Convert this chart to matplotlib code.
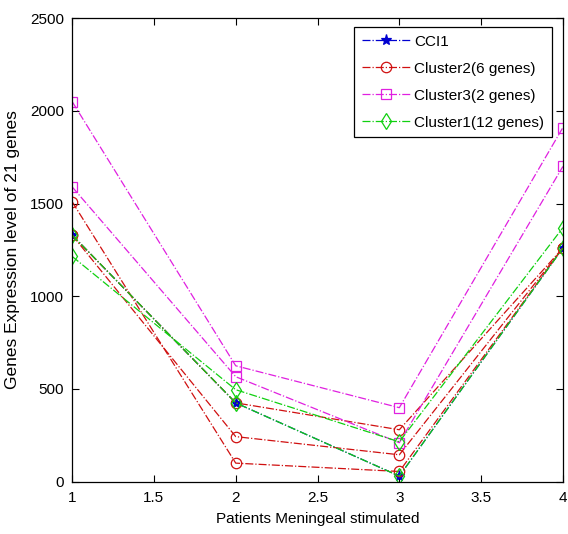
import matplotlib
matplotlib.use("Agg")
import matplotlib.pyplot as plt

plt.rcParams['font.family'] = ['Liberation Sans', 'DejaVu Sans']

patients = [1, 2, 3, 4]

# expression profiles per group (one list per plotted line)
cci1 = [[1330, 425, 30, 1260]]
cluster2 = [[1330, 425, 280, 1260],
            [1330, 243, 145, 1260],
            [1510, 100, 55, 1260]]
cluster3 = [[2050, 625, 399, 1910],
            [1590, 566, 210, 1700]]
cluster1 = [[1215, 496, 215, 1370],
            [1330, 425, 30, 1260]]

labels = ["CCI1", "Cluster2(6 genes)", "Cluster3(2 genes)", "Cluster1(12 genes)"]
x_ticks = [1, 1.5, 2, 2.5, 3, 3.5, 4]
y_ticks = [0, 500, 1000, 1500, 2000, 2500]

styles = [
    dict(color="#0000d0", marker="*", ms=8),
    dict(color="#d01010", marker="o", ms=7.5),
    dict(color="#e020e0", marker="s", ms=7.5),
    dict(color="#10d010", marker="d", ms=8),
]
groups = [cci1, cluster2, cluster3, cluster1]

fig = plt.figure(figsize=(5.68, 5.34), dpi=100)
ax = fig.add_axes([0.127, 0.098, 0.864, 0.868])

handles = []
for grp, st, lab in zip(groups, styles, labels):
    for i, vals in enumerate(grp):
        h, = ax.plot(patients, vals, linestyle="-.", linewidth=0.9,
                     color=st["color"], marker=st["marker"], markersize=st["ms"],
                     markerfacecolor="none" if st["marker"] != "*" else st["color"],
                     markeredgecolor=st["color"], markeredgewidth=0.9,
                     label=lab if i == 0 else None)
        if i == 0:
            handles.append(h)

ax.set_xlim(1, 4)
ax.set_ylim(0, 2500)
ax.set_xticks(x_ticks)
ax.set_xticklabels(["1", "1.5", "2", "2.5", "3", "3.5", "4"])
ax.set_yticks(y_ticks)
ax.tick_params(direction="in", top=True, right=True, length=5, labelsize=11, width=0.8)
ax.tick_params(axis="x", pad=7)
ax.tick_params(axis="y", pad=6)
for s in ax.spines.values():
    s.set_linewidth(0.9)

ax.set_xlabel("Patients Meningeal stimulated", fontsize=11, labelpad=5)
ax.set_ylabel("Genes Expression level of 21 genes", fontsize=12.5, labelpad=7)

leg = ax.legend(handles=handles, loc="upper right", bbox_to_anchor=(0.9776, 0.9806),
                fontsize=11, frameon=True, fancybox=False, framealpha=1,
                edgecolor="black", handlelength=3.2, borderpad=0.5,
                labelspacing=0.85, handletextpad=0.25, borderaxespad=0.0)
leg.get_frame().set_linewidth(0.9)

fig.savefig("out.png", dpi=100)
